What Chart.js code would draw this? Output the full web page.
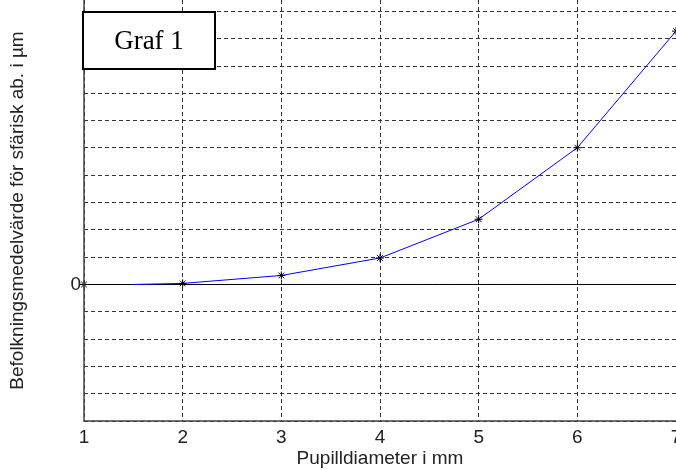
<!DOCTYPE html>
<html>
<head>
<meta charset="utf-8">
<script src="https://cdn.jsdelivr.net/npm/chart.js@4"></script>
<style>
  html, body { margin: 0; padding: 0; background: #fff; overflow: hidden; }
  #wrap { width: 676px; height: 470px; }
</style>
</head>
<body>
<div id="wrap"><canvas id="grafChart" width="676" height="470"></canvas></div>
<script>
// Pupil diameter (mm) and population mean of spherical aberration (grid units)
const pupilDiameters = [1.5, 2, 3, 4, 5, 6, 7];
const sphericalMeans = [0, 0.04, 0.33, 0.97, 2.39, 5.01, 9.28];
// star markers (the one at x=1 sits on the y axis)
const markerX = [1, 2, 3, 4, 5, 6, 7];
const markerY = [0, 0.04, 0.33, 0.97, 2.39, 5.01, 9.28];
const xTicks = [1, 2, 3, 4, 5, 6, 7];
const yGrid = [-5, -4, -3, -2, -1, 0, 1, 2, 3, 4, 5, 6, 7, 8, 9, 10];
const yMin = -5, yMax = 10.42;

// "Graf 1" box in the upper left corner of the plot
const grafBox = {
    id: 'grafBox',
    afterDraw(chart) {
        const ctx = chart.ctx;
        const a = chart.chartArea;
        const x = a.left - 1, y = 12, w = 132, h = 57;
        ctx.save();
        ctx.fillStyle = '#fff';
        ctx.fillRect(x, y, w, h);
        ctx.lineWidth = 2;
        ctx.strokeStyle = '#000';
        ctx.strokeRect(x, y, w, h);
        ctx.fillStyle = '#000';
        ctx.font = '27px "Liberation Serif"';
        ctx.textAlign = 'center';
        ctx.textBaseline = 'middle';
        ctx.fillText('Graf 1', x + w / 2, y + h / 2 + 1);
        ctx.restore();
    }
};

// plain solid axis lines (left and bottom)
const axisLines = {
    id: 'axisLines',
    afterDatasetsDraw(chart) {
        const ctx = chart.ctx;
        const a = chart.chartArea;
        ctx.save();
        ctx.strokeStyle = '#444';
        ctx.lineWidth = 1.5;
        ctx.beginPath();
        ctx.moveTo(a.left, a.top);
        ctx.lineTo(a.left, a.bottom);
        ctx.lineTo(a.right, a.bottom);
        ctx.stroke();
        ctx.restore();
    }
};

const tickFont = { family: 'Liberation Sans', size: 19 };

document.addEventListener('DOMContentLoaded', function() {
    const ctx = document.getElementById('grafChart');
    new Chart(ctx.getContext('2d'), {
        type: 'scatter',
        data: {
            datasets: [{
                label: 'zero',
                data: [{x: xTicks[0], y: 0}, {x: xTicks[xTicks.length - 1], y: 0}],
                showLine: true,
                borderColor: '#000',
                borderWidth: 1,
                pointRadius: 0,
                order: 3
            }, {
                label: 'medel',
                data: pupilDiameters.map((d, i) => ({x: d, y: sphericalMeans[i]})),
                showLine: true,
                borderColor: '#0000ff',
                borderWidth: 1,
                pointRadius: 0,
                order: 2
            }, {
                label: 'markers',
                data: markerX.map((d, i) => ({x: d, y: markerY[i]})),
                showLine: false,
                pointStyle: 'star',
                pointRadius: 4,
                borderColor: '#000',
                backgroundColor: '#000',
                borderWidth: 1,
                clip: false,
                order: 1
            }]
        },
        options: {
            responsive: false,
            animation: false,
            layout: { padding: 0, autoPadding: false },
            scales: {
                x: {
                    type: 'linear',
                    min: 1,
                    max: 7,
                    afterBuildTicks: axis => { axis.ticks = xTicks.map(v => ({value: v})); },
                    afterFit: axis => {
                        axis.height = 49;
                        axis.paddingLeft = 0;
                        axis.paddingRight = 0;
                    },
                    grid: {
                        color: '#333',
                        lineWidth: 1,
                        drawTicks: false
                    },
                    border: { display: false, dash: [4, 3] },
                    ticks: {
                        color: '#222',
                        font: tickFont,
                        padding: 5,
                        maxRotation: 0
                    },
                    title: {
                        display: true,
                        text: 'Pupilldiameter i mm',
                        color: '#222',
                        font: tickFont,
                        padding: { top: 0, bottom: 0 }
                    }
                },
                y: {
                    type: 'linear',
                    min: yMin,
                    max: yMax,
                    afterBuildTicks: axis => { axis.ticks = yGrid.map(v => ({value: v})); },
                    afterFit: axis => {
                        axis.width = 84;
                        axis.paddingTop = 0;
                        axis.paddingBottom = 0;
                    },
                    grid: {
                        color: '#333',
                        lineWidth: 1,
                        drawTicks: false
                    },
                    border: { display: false, dash: [4, 3] },
                    ticks: {
                        color: '#222',
                        font: tickFont,
                        padding: 3,
                        callback: v => (v === 0 ? '0' : '')
                    },
                    title: {
                        display: true,
                        text: 'Befolkningsmedelvärde för sfärisk ab. i µm',
                        color: '#222',
                        font: tickFont,
                        padding: { top: 6, bottom: 0 }
                    }
                }
            },
            plugins: {
                legend: { display: false },
                tooltip: { enabled: false }
            }
        },
        plugins: [axisLines, grafBox]
    });
});
</script>
</body>
</html>
